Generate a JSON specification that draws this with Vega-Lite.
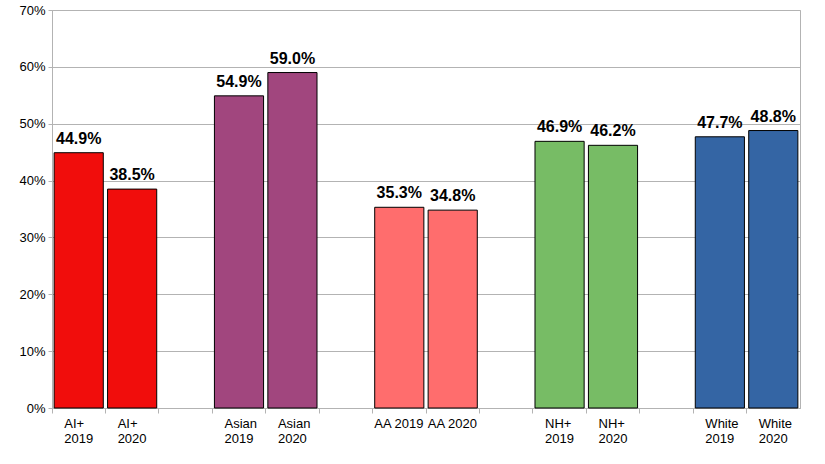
{
  "$schema": "https://vega.github.io/schema/vega-lite/v6.json",
  "width": 748,
  "height": 398,
  "autosize": {"type": "none"},
  "padding": {"left": 52, "top": 10, "right": 25, "bottom": 56},
  "background": "white",
  "config": {
    "font": "Liberation Sans",
    "view": {"stroke": "#b3b3b3", "strokeWidth": 1}
  },
  "data": {
    "values": [
      {"cat": "AI+ 2019", "group": "AI+", "value": 0.449},
      {"cat": "AI+ 2020", "group": "AI+", "value": 0.385},
      {"cat": "Asian 2019", "group": "Asian", "value": 0.549},
      {"cat": "Asian 2020", "group": "Asian", "value": 0.590},
      {"cat": "AA 2019", "group": "AA", "value": 0.353},
      {"cat": "AA 2020", "group": "AA", "value": 0.348},
      {"cat": "NH+ 2019", "group": "NH+", "value": 0.469},
      {"cat": "NH+ 2020", "group": "NH+", "value": 0.462},
      {"cat": "White 2019", "group": "White", "value": 0.477},
      {"cat": "White 2020", "group": "White", "value": 0.488}
    ]
  },
  "encoding": {
    "x": {
      "field": "cat",
      "type": "nominal",
      "sort": null,
      "scale": {
        "domain": ["AI+ 2019", "AI+ 2020", "_1", "Asian 2019", "Asian 2020", "_2", "AA 2019", "AA 2020", "_3", "NH+ 2019", "NH+ 2020", "_4", "White 2019", "White 2020"],
        "paddingInner": 0,
        "paddingOuter": 0
      },
      "axis": {
        "title": null,
        "labelAngle": 0,
        "bandPosition": 0,
        "ticks": true,
        "labelAlign": "left",
        "labelBaseline": "top",
        "labelOffset": {"condition": {"test": "indexof(datum.value, 'AA') == 0", "value": -25}, "value": -14.5},
        "labelExpr": "indexof(datum.value, '_') == 0 ? '' : indexof(datum.value, 'AA') == 0 ? datum.value : split(datum.value, ' ')",
        "labelFontSize": 13,
        "labelColor": "#000000",
        "labelLineHeight": 15,
        "labelPadding": 4,
        "labelFont": "Liberation Sans",
        "tickSize": 5,
        "tickColor": "#b3b3b3",
        "domainColor": "#b3b3b3",
        "grid": false
      }
    }
  },
  "layer": [
    {
      "mark": {"type": "bar", "stroke": "#000000", "strokeWidth": 1, "width": {"band": 0.92}},
      "encoding": {
        "y": {
          "field": "value",
          "type": "quantitative",
          "scale": {"domain": [0, 0.7], "nice": false},
          "axis": {
            "title": null,
            "format": ".0%",
            "values": [0, 0.1, 0.2, 0.3, 0.4, 0.5, 0.6, 0.7],
            "labelFontSize": 13,
            "labelColor": "#000000",
            "labelFont": "Liberation Sans",
            "labelPadding": 3,
            "tickSize": 4,
            "tickColor": "#b3b3b3",
            "domainColor": "#b3b3b3",
            "gridColor": "#b3b3b3",
            "grid": true
          }
        },
        "color": {
          "field": "group",
          "type": "nominal",
          "scale": {
            "domain": ["AI+", "Asian", "AA", "NH+", "White"],
            "range": ["#f10d0c", "#a1467e", "#ff6d6d", "#77bc65", "#3465a4"]
          },
          "legend": null
        }
      }
    },
    {
      "mark": {"type": "text", "fontSize": 16, "fontWeight": "bold", "dy": -14, "color": "#000000", "font": "Liberation Sans"},
      "encoding": {
        "y": {"field": "value", "type": "quantitative"},
        "text": {"field": "value", "type": "quantitative", "format": ".1%"}
      }
    }
  ]
}
